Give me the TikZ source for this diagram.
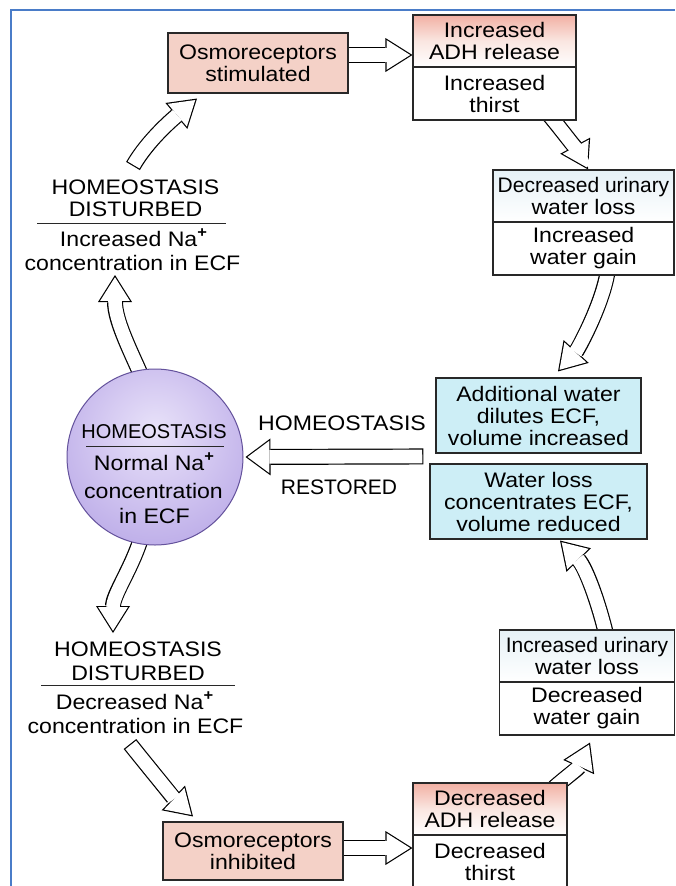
\documentclass[tikz,border=0pt]{standalone}
\usepackage{fontspec}
\setmainfont{Liberation Sans}[FakeStretch=1.1]
\newfontfamily\narrowsans{Liberation Sans}
\usetikzlibrary{arrows.meta,calc}

\pgfdeclarelayer{back}
\pgfdeclarelayer{arrowlayer}
\pgfsetlayers{back,arrowlayer,main}

\definecolor{framebl}{RGB}{74,124,200}
\definecolor{boxline}{RGB}{40,40,40}
\definecolor{pinkbox}{RGB}{244,209,199}
\definecolor{pinktop}{RGB}{242,176,163}
\definecolor{pinkmid}{RGB}{250,230,225}
\definecolor{cyanbox}{RGB}{205,238,246}
\definecolor{palebl}{RGB}{230,241,246}
\definecolor{lavhi}{RGB}{232,226,249}
\definecolor{lavsoft}{RGB}{214,203,242}
\definecolor{lavmid}{RGB}{188,172,232}
\definecolor{lavedge}{RGB}{145,122,202}
\definecolor{lavline}{RGB}{100,82,156}

\pgfdeclareradialshading{homeoball}{\pgfpoint{0bp}{8bp}}{%
  color(0bp)=(lavhi); color(14bp)=(lavsoft); color(32bp)=(lavmid);
  color(52bp)=(lavedge); color(75bp)=(lavedge)}

% superscript plus of the sodium ion
\newcommand\upplus{\raisebox{0.42em}{\fontsize{15pt}{15pt}\selectfont\bfseries +}}

\tikzset{
  cbox/.style={font=\fontsize{21pt}{22pt}\selectfont, align=center,
    inner sep=0pt, rectangle, draw=boxline, line width=1.1pt},
  pinkfill/.style={fill=pinkbox},
  pinkfade/.style={top color=pinktop, bottom color=white, middle color=pinkmid},
  palefade/.style={top color=palebl, bottom color=white},
  cyanfill/.style={fill=cyanbox},
  lbl/.style={font=\fontsize{21pt}{22pt}\selectfont, inner sep=0pt, anchor=base},
  narrow/.style={font=\fontsize{21pt}{22pt}\selectfont\narrowsans},
  textrule/.style={draw=boxline, line width=1.2pt},
  framerule/.style={draw=framebl, line width=1.6pt},
  % hollow block arrow: black outline pass, then white inner pass
  fatarrow/.style={
    preaction={draw=black, line width=16pt, shorten <=0pt, shorten >=0pt,
      -{Triangle[width=34pt, length=27pt, line width=0pt]}},
    draw=white, line width=13.6pt, shorten <=1.2pt, shorten >=2.25pt,
    -{Triangle[width=29.66pt, length=23.55pt, line width=0pt]}},
  bigfatarrow/.style={
    preaction={draw=black, line width=16pt, shorten <=0pt, shorten >=0pt,
      -{Triangle[width=37pt, length=25pt, line width=0pt]}},
    draw=white, line width=13.6pt, shorten <=1.2pt, shorten >=2.02pt,
    -{Triangle[width=32.23pt, length=21.78pt, line width=0pt]}},
}

\begin{document}
\begin{tikzpicture}[x=1pt, y=-1pt]
\useasboundingbox (0,0) rectangle (675,886);
\begin{pgfonlayer}{back}
  \fill[white] (0,0) rectangle (675,886);
\end{pgfonlayer}
\clip (0,0) rectangle (675,886);

% ---- upper loop: too much sodium ----
\node[cbox, pinkfill, minimum width=180pt, minimum height=60pt] (stim) at (258,63)
  {Osmoreceptors\\stimulated};
\node[cbox, pinkfade, minimum width=163pt, minimum height=52pt] (adhUpA) at (494.5,41)
  {Increased\\ADH release};
\node[cbox, fill=white, minimum width=163pt, minimum height=53pt] (adhUpB) at (494.5,93.5)
  {Increased\\thirst};
\node[cbox, palefade, minimum width=181pt, minimum height=52pt] (urinDecA) at (583.5,196)
  {{\narrowsans Decreased urinary}\\water loss};
\node[cbox, fill=white, minimum width=181pt, minimum height=53pt] (urinDecB) at (583.5,248.5)
  {Increased\\water gain};
\node[cbox, cyanfill, minimum width=205pt, minimum height=75pt] (addWater) at (538.5,415.5)
  {Additional water\\dilutes ECF,\\volume increased};

% ---- lower loop: too little sodium ----
\node[cbox, cyanfill, minimum width=217pt, minimum height=75pt] (waterLoss) at (538.5,501.5)
  {Water loss\\concentrates ECF,\\volume reduced};
\node[cbox, palefade, minimum width=175pt, minimum height=52pt] (urinIncA) at (587,656)
  {{\narrowsans Increased urinary}\\water loss};
\node[cbox, fill=white, minimum width=175pt, minimum height=53pt] (urinIncB) at (587,708.5)
  {Decreased\\water gain};
\node[cbox, pinkfill, minimum width=180pt, minimum height=58pt] (inh) at (253,851)
  {Osmoreceptors\\inhibited};
\node[cbox, pinkfade, minimum width=154pt, minimum height=52pt] (adhDownA) at (490,809)
  {Decreased\\ADH release};
\node[cbox, fill=white, minimum width=154pt, minimum height=54pt] (adhDownB) at (490,862)
  {Decreased\\thirst};

% ---- homeostasis ball ----
\node[circle, shading=homeoball, draw=lavline, line width=1pt, minimum size=176pt,
  inner sep=0pt] (circ) at (155,457) {};
\node[lbl, font=\fontsize{20pt}{22pt}\selectfont\narrowsans] (cH) at (154,438) {HOMEOSTASIS};
\draw[textrule] ($(cH.base)+(-68,8.7)$) -- ($(cH.base)+(70,8.7)$);
\node[lbl] (cN) at (154,470) {Normal Na\upplus};
\node[lbl] (cC) at (153.5,498.5) {concentration};
\node[lbl] (cE) at (154.5,523) {in ECF};

% ---- free captions ----
\node[lbl] (topH) at (135.5,194) {HOMEOSTASIS};
\node[lbl] (topD) at (135.5,216.7) {DISTURBED};
\draw[textrule] ($(topD.base)+(-98.5,6.6)$) -- ($(topD.base)+(90.5,6.6)$);
\node[lbl] (topN) at (133.5,246.7) {Increased Na\upplus};
\node[lbl] (topC) at (132.5,270) {concentration in ECF};

\node[lbl] (botH) at (138,656.7) {HOMEOSTASIS};
\node[lbl] (botD) at (138,680) {DISTURBED};
\draw[textrule] ($(botD.base)+(-97,5.5)$) -- ($(botD.base)+(97,5.5)$);
\node[lbl] (botN) at (134.5,709) {Decreased Na\upplus};
\node[lbl] (botC) at (135.5,733) {concentration in ECF};

\node[lbl] (hsH) at (342,430.7) {HOMEOSTASIS};
\node[lbl, narrow] (hsR) at (339,494) {RESTORED};

% ---- block arrows (beneath the boxes) ----
\begin{pgfonlayer}{arrowlayer}
\draw[fatarrow] ($(topH.base)+(-2.5,-28)$) .. controls +(12,-21) and +(-32,27) ..
  ($(stim.south)+(-61,5)$);
\draw[fatarrow] ($(stim.east)+(-3,-8)$) -- ($(stim.east -| adhUpA.west)+(0,-8)$);
\draw[fatarrow] ($(adhUpB.south)+(52.5,-8)$) .. controls +(14,16) and +(-7,-13) ..
  ($(urinDecA.north)+(4.5,0)$);
\draw[fatarrow] ($(urinDecB.south)+(24.5,-7)$) .. controls +(-4,33) and +(20,-22) ..
  ($(addWater.north)+(19.5,-6)$);
\draw[bigfatarrow] ($(waterLoss.north west)+(-6,-7)$) -- ($(circ.east)+(2,0)$);
\draw[fatarrow] ($(circ.center)!0.96!(circ.100)$) .. controls +(-11,-25) and +(0,45) ..
  ($(topC.base)+(-17.5,5)$);
\draw[fatarrow] ($(circ.center)!0.96!(circ.-100)$) .. controls +(-10,30) and +(0,-38) ..
  ($(botH.base)+(-25,-23.7)$);
\draw[fatarrow] ($(botC.base)+(-5.5,11)$) .. controls +(11,14) and +(-18,-17) ..
  ($(inh.north)+(-60,-5)$);
\draw[fatarrow] ($(inh.east)+(-3,-3)$) -- ($(inh.east -| adhDownA.west)+(0,-3)$);
\draw[fatarrow] ($(adhDownA.north)+(64,5.3)$) .. controls +(15,-13) and +(-12,26) ..
  ($(urinIncB.south)+(3,7)$);
\draw[fatarrow] ($(urinIncA.north)+(19.8,7.8)$) .. controls +(-9,-38) and +(25,26) ..
  ($(waterLoss.south)+(21.5,1)$);
\end{pgfonlayer}

% ---- page frame ----
\draw[framerule] (11,886) -- (11,10) -- (675,10);
\end{tikzpicture}
\end{document}
